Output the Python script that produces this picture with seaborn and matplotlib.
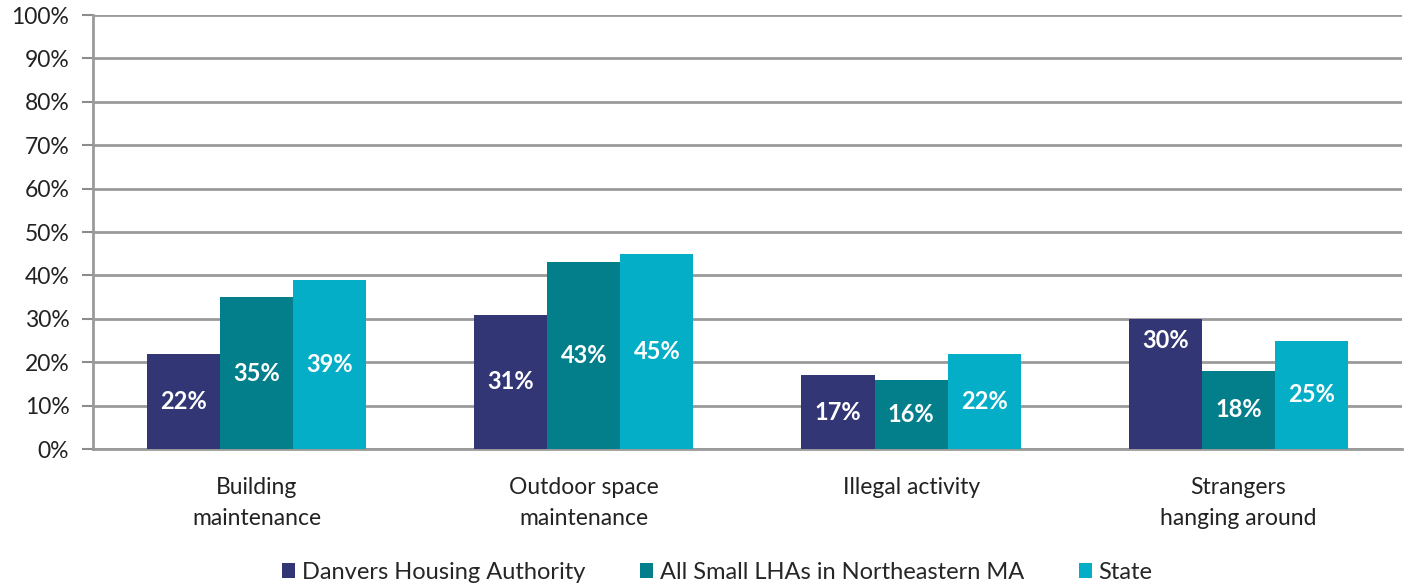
import numpy as np
import pandas as pd
import matplotlib
matplotlib.use("Agg")
import matplotlib.pyplot as plt
import seaborn as sns

# Chart data
categories = ["Building\nmaintenance", "Outdoor space\nmaintenance", "Illegal activity", "Strangers\nhanging around"]
series = ["Danvers Housing Authority", "All Small LHAs in Northeastern MA", "State"]
danvers = [0.22, 0.31, 0.17, 0.30]
small_lhas = [0.35, 0.43, 0.16, 0.18]
state = [0.39, 0.45, 0.22, 0.25]
colors = ["#333675", "#027F8B", "#04AEC6"]

df = pd.DataFrame({
    "category": categories * 3,
    "series": [series[0]] * 4 + [series[1]] * 4 + [series[2]] * 4,
    "value": danvers + small_lhas + state,
})

sns.set_style("white")
plt.rcParams["font.family"] = ["Lato", "DejaVu Sans"]

fig = plt.figure(figsize=(14.11, 5.87), dpi=100)
ax = fig.add_axes([0.0659, 0.235, 0.9277, 0.7394])

sns.barplot(data=df, x="category", y="value", hue="series", palette=colors,
            width=0.67, saturation=1, gap=0, linewidth=0, ax=ax, errorbar=None, zorder=3)

ax.set_ylim(0, 1)
ax.set_xlim(-0.5, 3.5)
ax.set_yticks(np.arange(0, 1.01, 0.1))
ax.set_yticklabels([f"{int(round(t * 100))}%" for t in np.arange(0, 1.01, 0.1)], fontsize=16.5, color="#222222")
ax.set_xticks(range(4))
ax.set_xticklabels(categories, fontsize=16.5, color="#222222", linespacing=1.6)
ax.tick_params(axis="x", length=0, pad=20)
ax.set_xticks([0.5, 1.5, 2.5, 3.5], minor=True)
ax.tick_params(axis="x", which="minor", length=8, width=1.5, color="#8c8c8c")
ax.tick_params(axis="y", length=8, width=1.5, color="#8c8c8c", pad=9, left=True)
ax.set_xlabel("")
ax.set_ylabel("")

ax.grid(axis="y", color="#9a9a9a", linewidth=2, zorder=0)
for s in ["top", "right"]:
    ax.spines[s].set_visible(False)
for s in ["left", "bottom"]:
    ax.spines[s].set_color("#9a9a9a")
    ax.spines[s].set_linewidth(2)

# data labels
for container in ax.containers:
    for bar in container:
        h = bar.get_height()
        y = h / 2
        if h >= 0.30 and bar.get_x() > 2.5 and bar.get_x() < 2.8:
            y = h - 0.05
        ax.text(bar.get_x() + bar.get_width() / 2, y, f"{h * 100:.0f}%",
                ha="center", va="center", color="white", fontsize=17, fontweight="bold", zorder=4)

ax.legend(loc="center", bbox_to_anchor=(0.477, -0.285), ncol=3, frameon=False,
          fontsize=17, handlelength=0.55, handleheight=0.6, handletextpad=0.3, columnspacing=2.3)

fig.savefig("out.png", dpi=100)
